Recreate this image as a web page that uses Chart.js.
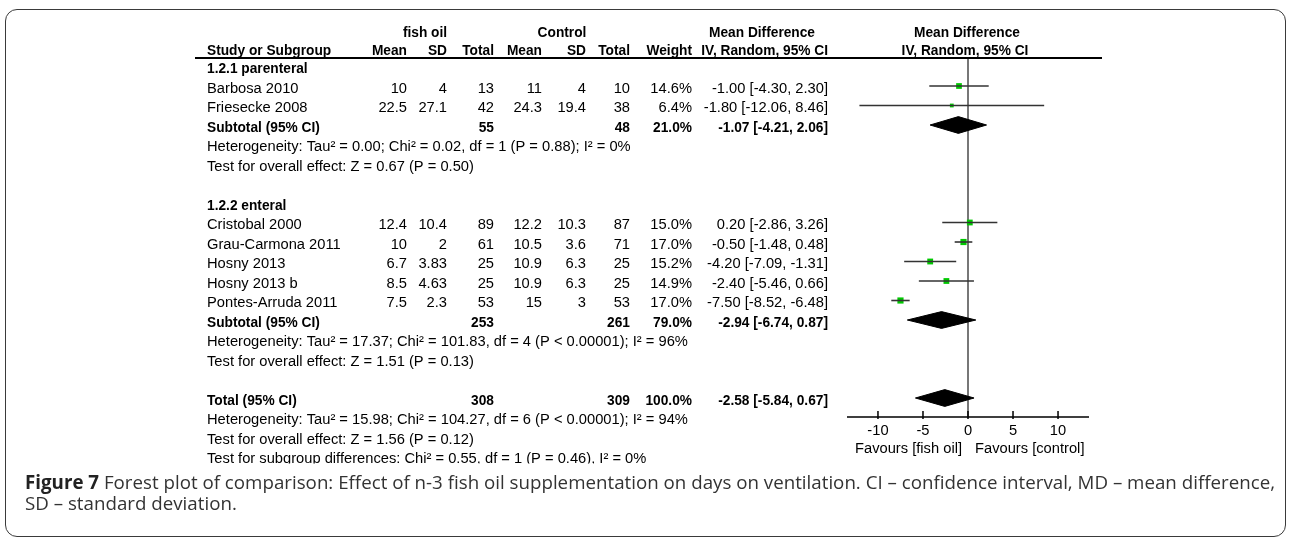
<!DOCTYPE html>
<html>
<head>
<meta charset="utf-8">
<script src="https://cdn.jsdelivr.net/npm/chart.js@4.4.1/dist/chart.umd.min.js"></script>
<style>
  html, body { margin: 0; padding: 0; background: #fff; }
  #wrap { position: relative; width: 1289px; height: 538px; overflow: hidden; }
  #frame { position: absolute; left: 5px; top: 9px; width: 1279px; height: 526px;
           border: 1.5px solid #3a3a3a; border-radius: 12px; }
  #chartBox { position: absolute; left: 0; top: 0; width: 1289px; height: 538px; }
  #caption { position: absolute; left: 25px; top: 472px; font-family: "Open Sans", sans-serif;
             font-size: 19px; line-height: 21px; color: #333; white-space: nowrap; transform-origin: 0 0; }
  #caption b { color: #222; }
</style>
</head>
<body>
<div id="wrap">
  <div id="frame"></div>
  <div id="chartBox"><canvas id="forest"></canvas></div>
  <div id="caption"><span id="capLine1"><b>Figure 7</b> Forest plot of comparison: Effect of n-3 fish oil supplementation on days on ventilation. CI – confidence interval, MD – mean difference,</span><br>SD – standard deviation.</div>
</div>
<script>
// studies (row = line in the table, 0 = first subgroup heading)
const studies = ['Barbosa 2010', 'Friesecke 2008', 'Cristobal 2000', 'Grau-Carmona 2011', 'Hosny 2013', 'Hosny 2013 b', 'Pontes-Arruda 2011'];
const studyRows = [1, 2, 8, 9, 10, 11, 12];
const fishMean = [10, 22.5, 12.4, 10, 6.7, 8.5, 7.5];
const fishSD = [4, 27.1, 10.4, 2, 3.83, 4.63, 2.3];
const fishN = [13, 42, 89, 61, 25, 25, 53];
const ctrlMean = [11, 24.3, 12.2, 10.5, 10.9, 10.9, 15];
const ctrlSD = [4, 19.4, 10.3, 3.6, 6.3, 6.3, 3];
const ctrlN = [10, 38, 87, 71, 25, 25, 53];
const weights = [14.6, 6.4, 15.0, 17.0, 15.2, 14.9, 17.0];
const md = [-1.00, -1.80, 0.20, -0.50, -4.20, -2.40, -7.50];
const ciLow = [-4.30, -12.06, -2.86, -1.48, -7.09, -5.46, -8.52];
const ciHigh = [2.30, 8.46, 3.26, 0.48, -1.31, 0.66, -6.48];

// subtotals and total
const pooledLabels = ['Subtotal (95% CI)', 'Subtotal (95% CI)', 'Total (95% CI)'];
const pooledRows = [3, 13, 17];
const pooledFishN = [55, 253, 308];
const pooledCtrlN = [48, 261, 309];
const pooledWeights = [21.0, 79.0, 100.0];
const pooledMD = [-1.07, -2.94, -2.58];
const pooledLow = [-4.21, -6.74, -5.84];
const pooledHigh = [2.06, 0.87, 0.67];

const groupLabels = ['1.2.1 parenteral', '1.2.2 enteral'];
const groupRows = [0, 7];

const noteRows = [4, 5, 14, 15, 18, 19, 20];
const notes = [
    'Heterogeneity: Tau² = 0.00; Chi² = 0.02, df = 1 (P = 0.88); I² = 0%',
    'Test for overall effect: Z = 0.67 (P = 0.50)',
    'Heterogeneity: Tau² = 17.37; Chi² = 101.83, df = 4 (P < 0.00001); I² = 96%',
    'Test for overall effect: Z = 1.51 (P = 0.13)',
    'Heterogeneity: Tau² = 15.98; Chi² = 104.27, df = 6 (P < 0.00001); I² = 94%',
    'Test for overall effect: Z = 1.56 (P = 0.12)',
    'Test for subgroup differences: Chi² = 0.55, df = 1 (P = 0.46), I² = 0%'
];

const favourLeft = 'Favours [fish oil]';
const favourRight = 'Favours [control]';

// layout
const SX = 1.05;      // regular text is a little wider than Arial in the source
const SX_BOLD = 0.98;
const FONT = '"Liberation Sans", Arial, sans-serif';
const TEXT_DY = 3;
const DIAMOND_H = 0.43;
const colStudy = 207;
const colRight = { fMean: 407, fSD: 447, fN: 494, cMean: 542, cSD: 586, cN: 630, w: 692, ci: 828 };

function fmtCI(m, lo, hi) {
    return m.toFixed(2) + ' [' + lo.toFixed(2) + ', ' + hi.toFixed(2) + ']';
}

function txt(ctx, s, x, y, align, bold, size) {
    const sx = bold ? SX_BOLD : SX;
    ctx.font = (bold ? 'bold ' : '') + (size || 14) + 'px ' + FONT;
    const w = ctx.measureText(s).width * sx;
    const x0 = align === 'right' ? x - w : align === 'center' ? x - w / 2 : x;
    ctx.save();
    ctx.translate(x0, y);
    ctx.scale(sx, 1);
    ctx.textAlign = 'left';
    ctx.textBaseline = 'middle';
    ctx.fillStyle = '#000';
    ctx.fillText(s, 0, 0);
    ctx.restore();
}

const forestDecor = {
    id: 'forestDecor',
    beforeDatasetsDraw(chart) {
        const ctx = chart.ctx;
        const xs = chart.scales.x;
        const area = chart.chartArea;
        // line of no effect
        const x0 = xs.getPixelForValue(0);
        ctx.save();
        ctx.strokeStyle = '#555';
        ctx.lineWidth = 1.6;
        ctx.beginPath();
        ctx.moveTo(x0, area.top);
        ctx.lineTo(x0, area.bottom);
        ctx.stroke();
        ctx.restore();
    },
    afterDraw(chart) {
        const ctx = chart.ctx;
        const xs = chart.scales.x;
        const ys = chart.scales.y;
        const area = chart.chartArea;
        const rowY = r => ys.getPixelForValue(r) + TEXT_DY;

        // header
        txt(ctx, 'fish oil', 425, 33, 'center', true);
        txt(ctx, 'Control', 562, 33, 'center', true);
        txt(ctx, 'Mean Difference', 762, 33, 'center', true);
        txt(ctx, 'Mean Difference', 967, 33, 'center', true);
        txt(ctx, 'Study or Subgroup', colStudy, 51, 'left', true);
        txt(ctx, 'Mean', colRight.fMean, 51, 'right', true);
        txt(ctx, 'SD', colRight.fSD, 51, 'right', true);
        txt(ctx, 'Total', colRight.fN, 51, 'right', true);
        txt(ctx, 'Mean', colRight.cMean, 51, 'right', true);
        txt(ctx, 'SD', colRight.cSD, 51, 'right', true);
        txt(ctx, 'Total', colRight.cN, 51, 'right', true);
        txt(ctx, 'Weight', colRight.w, 51, 'right', true);
        txt(ctx, 'IV, Random, 95% CI', colRight.ci, 51, 'right', true);
        txt(ctx, 'IV, Random, 95% CI', 965, 51, 'center', true);

        ctx.save();
        ctx.strokeStyle = '#000';
        ctx.lineWidth = 2;
        ctx.beginPath();
        ctx.moveTo(195, area.top);
        ctx.lineTo(1102, area.top);
        ctx.stroke();
        ctx.restore();

        groupLabels.forEach((g, i) => txt(ctx, g, colStudy, rowY(groupRows[i]), 'left', true));

        studies.forEach((s, i) => {
            const y = rowY(studyRows[i]);
            txt(ctx, s, colStudy, y, 'left');
            txt(ctx, String(fishMean[i]), colRight.fMean, y, 'right');
            txt(ctx, String(fishSD[i]), colRight.fSD, y, 'right');
            txt(ctx, String(fishN[i]), colRight.fN, y, 'right');
            txt(ctx, String(ctrlMean[i]), colRight.cMean, y, 'right');
            txt(ctx, String(ctrlSD[i]), colRight.cSD, y, 'right');
            txt(ctx, String(ctrlN[i]), colRight.cN, y, 'right');
            txt(ctx, weights[i].toFixed(1) + '%', colRight.w, y, 'right');
            txt(ctx, fmtCI(md[i], ciLow[i], ciHigh[i]), colRight.ci, y, 'right');
        });

        pooledLabels.forEach((p, i) => {
            const y = rowY(pooledRows[i]);
            txt(ctx, p, colStudy, y, 'left', true);
            txt(ctx, String(pooledFishN[i]), colRight.fN, y, 'right', true);
            txt(ctx, String(pooledCtrlN[i]), colRight.cN, y, 'right', true);
            txt(ctx, pooledWeights[i].toFixed(1) + '%', colRight.w, y, 'right', true);
            txt(ctx, fmtCI(pooledMD[i], pooledLow[i], pooledHigh[i]), colRight.ci, y, 'right', true);
        });

        notes.forEach((n, i) => {
            const y = rowY(noteRows[i]);
            if (i === notes.length - 1) {
                // last line is cut off at the bottom in the source figure
                ctx.save();
                ctx.beginPath();
                ctx.rect(0, 0, chart.width, y + 4);
                ctx.clip();
                txt(ctx, n, colStudy, y, 'left');
                ctx.restore();
            } else {
                txt(ctx, n, colStudy, y, 'left');
            }
        });

        // x axis
        const ay = area.bottom;
        ctx.save();
        ctx.strokeStyle = '#000';
        ctx.lineWidth = 1.5;
        ctx.beginPath();
        ctx.moveTo(area.left, ay);
        ctx.lineTo(area.right, ay);
        xs.ticks.forEach(t => {
            const px = xs.getPixelForValue(t.value);
            ctx.moveTo(px, ay - 6);
            ctx.lineTo(px, ay + 2);
        });
        ctx.stroke();
        ctx.restore();
        xs.ticks.forEach(t => txt(ctx, String(t.value), xs.getPixelForValue(t.value), ay + 14, 'center'));
        txt(ctx, favourLeft, xs.getPixelForValue(0) - 6, ay + 32, 'right');
        txt(ctx, favourRight, xs.getPixelForValue(0) + 7, ay + 32, 'left');
    }
};

const ciSets = studies.map((s, i) => ({
    type: 'line',
    label: s,
    data: [{ x: ciLow[i], y: studyRows[i] }, { x: ciHigh[i], y: studyRows[i] }],
    borderColor: '#333',
    borderWidth: 1.6,
    pointRadius: 0,
    fill: false
}));

const diamondSets = pooledLabels.map((p, i) => ({
    type: 'line',
    label: p,
    data: [
        { x: pooledLow[i], y: pooledRows[i] },
        { x: pooledMD[i], y: pooledRows[i] - DIAMOND_H },
        { x: pooledHigh[i], y: pooledRows[i] },
        { x: pooledMD[i], y: pooledRows[i] + DIAMOND_H },
        { x: pooledLow[i], y: pooledRows[i] }
    ],
    borderColor: '#000',
    backgroundColor: '#000',
    borderWidth: 1,
    pointRadius: 0,
    tension: 0,
    fill: 'shape'
}));

const squareSet = {
    type: 'scatter',
    label: 'Mean difference',
    data: studies.map((s, i) => ({ x: md[i], y: studyRows[i] })),
    pointStyle: 'rect',
    pointRadius: studies.map((s, i) => Math.sqrt(weights[i]) * 1.06),
    backgroundColor: '#00c800',
    borderWidth: 0
};

new Chart(document.getElementById('forest'), {
    type: 'scatter',
    data: { datasets: [...ciSets, ...diamondSets, squareSet] },
    options: {
        responsive: true,
        maintainAspectRatio: false,
        animation: false,
        layout: { padding: { left: 847, right: 200, top: 58, bottom: 121 } },
        plugins: { legend: { display: false }, tooltip: { enabled: false } },
        scales: {
            x: {
                type: 'linear', display: false, min: -13.44, max: 13.44,
                ticks: { stepSize: 5, includeBounds: false }
            },
            y: { type: 'linear', display: false, min: -0.436, max: 17.974, reverse: true }
        }
    },
    plugins: [forestDecor]
});

// squeeze the caption to the width used in the figure
const cap = document.getElementById('caption');
const capW = document.getElementById('capLine1').getBoundingClientRect().width;
cap.style.transform = 'scaleX(' + (1250 / capW) + ')';
</script>
</body>
</html>
